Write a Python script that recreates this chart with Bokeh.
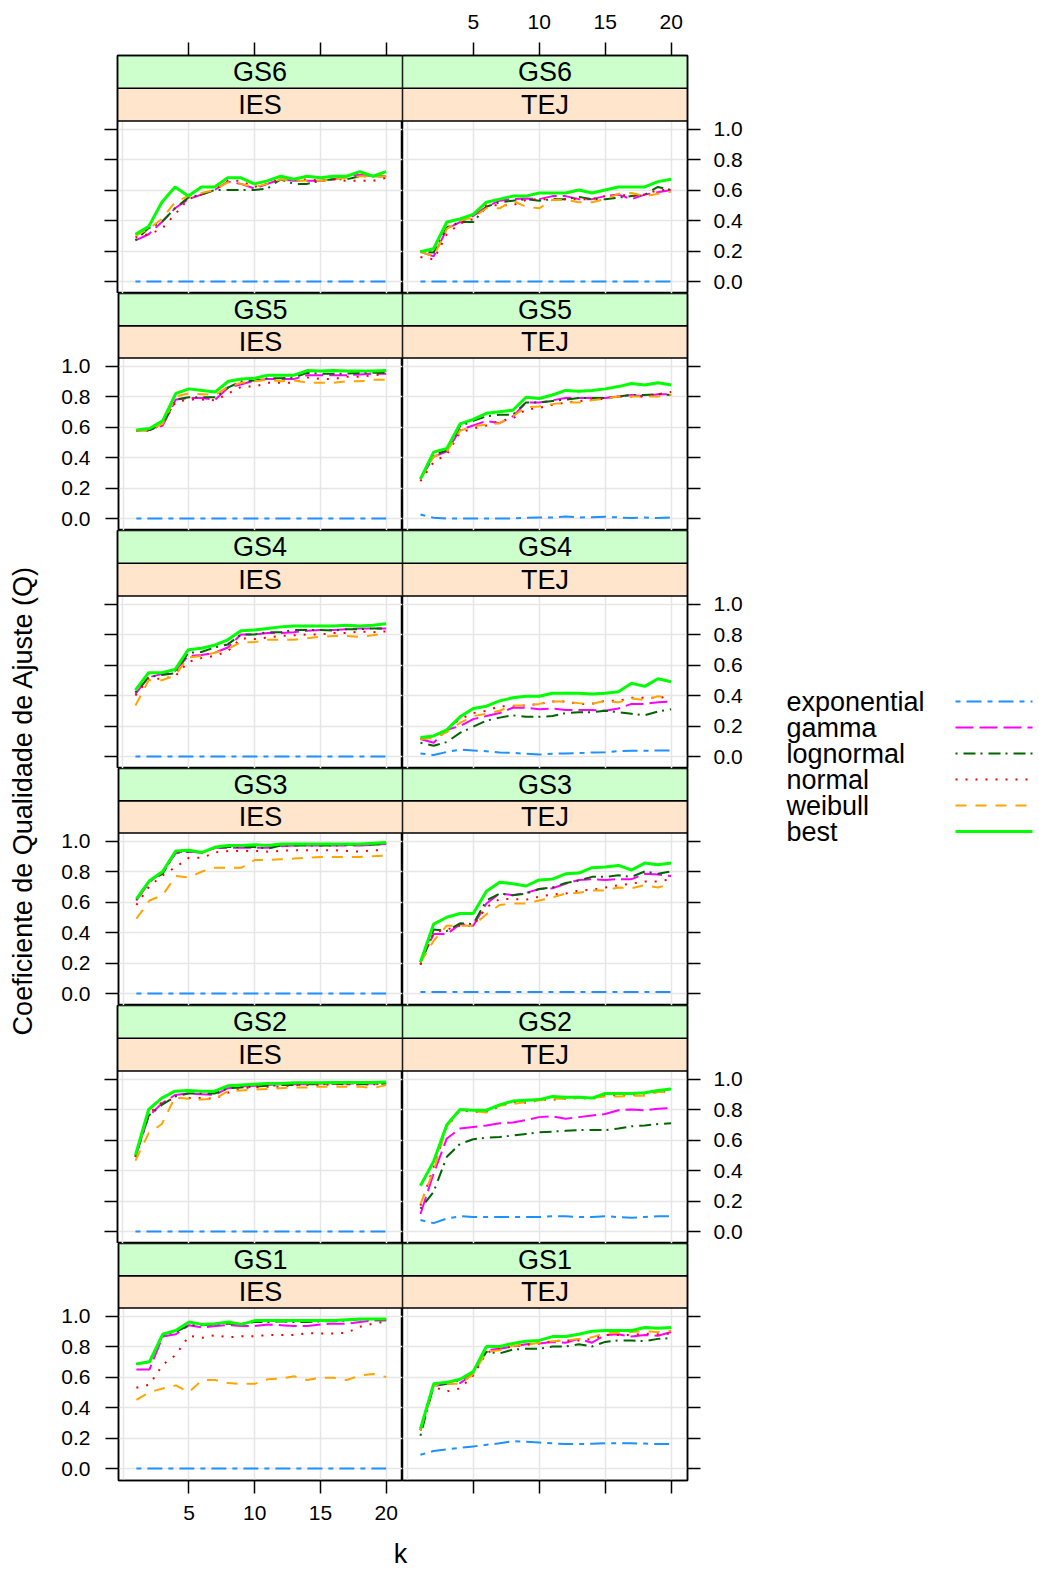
import math
from bokeh.plotting import figure
from bokeh.layouts import row, column
from bokeh.models import Range1d, LinearAxis, FixedTicker, Grid, PrintfTickFormatter
from bokeh.core.properties import value
from bokeh.embed import file_html
from bokeh.resources import INLINE

# ---------------- data ----------------
k = list(range(1, 21))
series_names = ["exponential", "gamma", "lognormal", "normal", "weibull", "best"]
series_colors = ["#1E90FF", "#FF00FF", "#006400", "#FF0000", "#FFA500", "#00FF00"]
series_dashes = ["5 6 15 6", "18 6", "2 6 12 5", "2 8", "11 9", "solid"]
series_widths = [2, 2, 2, 2, 2, 3]
groups = ["GS6", "GS5", "GS4", "GS3", "GS2", "GS1"]
panels = ["IES", "TEJ"]
x_ticks = [5, 10, 15, 20]
x_grid = [0, 5, 10, 15, 20]
y_ticks = [0.0, 0.2, 0.4, 0.6, 0.8, 1.0]
x_label = "k"
y_label = "Coeficiente de Qualidade de Ajuste (Q)"

# GS6 - IES
gs6_ies_exponential = [0, 0, 0, 0, 0, 0, 0, 0, 0, 0, 0, 0, 0, 0, 0, 0, 0, 0, 0, 0]
gs6_ies_gamma = [0.27, 0.31, 0.39, 0.48, 0.54, 0.57, 0.60, 0.655, 0.64, 0.61, 0.64, 0.67, 0.66, 0.66, 0.66, 0.67, 0.69, 0.70, 0.69, 0.69]
gs6_ies_lognormal = [0.27, 0.35, 0.39, 0.48, 0.55, 0.57, 0.60, 0.60, 0.60, 0.60, 0.61, 0.67, 0.64, 0.64, 0.66, 0.67, 0.67, 0.69, 0.69, 0.69]
gs6_ies_normal = [0.29, 0.31, 0.345, 0.44, 0.54, 0.57, 0.60, 0.66, 0.66, 0.62, 0.64, 0.67, 0.665, 0.67, 0.66, 0.67, 0.66, 0.66, 0.66, 0.68]
gs6_ies_weibull = [0.30, 0.345, 0.41, 0.52, 0.56, 0.58, 0.60, 0.65, 0.64, 0.62, 0.64, 0.67, 0.66, 0.66, 0.66, 0.67, 0.68, 0.69, 0.69, 0.69]
gs6_ies_best = [0.31, 0.36, 0.52, 0.62, 0.56, 0.62, 0.62, 0.68, 0.68, 0.64, 0.66, 0.69, 0.67, 0.69, 0.68, 0.69, 0.69, 0.72, 0.69, 0.72]

# GS6 - TEJ
gs6_tej_exponential = [0, 0, 0, 0, 0, 0, 0, 0, 0, 0, 0, 0, 0, 0, 0, 0, 0, 0, 0, 0]
gs6_tej_gamma = [0.195, 0.165, 0.345, 0.39, 0.43, 0.49, 0.53, 0.54, 0.545, 0.54, 0.56, 0.56, 0.54, 0.54, 0.56, 0.57, 0.54, 0.57, 0.585, 0.60]
gs6_tej_lognormal = [0.195, 0.19, 0.355, 0.39, 0.39, 0.49, 0.52, 0.53, 0.54, 0.53, 0.54, 0.54, 0.555, 0.54, 0.54, 0.55, 0.56, 0.57, 0.62, 0.60]
gs6_tej_normal = [0.16, 0.145, 0.31, 0.38, 0.41, 0.50, 0.50, 0.50, 0.535, 0.54, 0.54, 0.54, 0.54, 0.54, 0.56, 0.57, 0.56, 0.57, 0.60, 0.60]
gs6_tej_weibull = [0.195, 0.165, 0.345, 0.40, 0.42, 0.48, 0.48, 0.53, 0.49, 0.48, 0.535, 0.535, 0.52, 0.52, 0.54, 0.575, 0.58, 0.56, 0.575, 0.59]
gs6_tej_best = [0.195, 0.215, 0.39, 0.41, 0.44, 0.52, 0.54, 0.56, 0.56, 0.58, 0.58, 0.58, 0.60, 0.58, 0.60, 0.62, 0.62, 0.62, 0.655, 0.67]

# GS5 - IES
gs5_ies_exponential = [0, 0, 0, 0, 0, 0, 0, 0, 0, 0, 0, 0, 0, 0, 0, 0, 0, 0, 0, 0]
gs5_ies_gamma = [0.575, 0.58, 0.61, 0.78, 0.79, 0.79, 0.78, 0.86, 0.88, 0.905, 0.915, 0.915, 0.915, 0.94, 0.94, 0.94, 0.94, 0.945, 0.95, 0.95]
gs5_ies_lognormal = [0.575, 0.58, 0.62, 0.78, 0.795, 0.795, 0.795, 0.86, 0.90, 0.905, 0.92, 0.92, 0.925, 0.955, 0.95, 0.95, 0.95, 0.955, 0.955, 0.955]
gs5_ies_normal = [0.575, 0.575, 0.62, 0.765, 0.78, 0.78, 0.775, 0.82, 0.865, 0.865, 0.89, 0.89, 0.89, 0.925, 0.915, 0.915, 0.93, 0.93, 0.94, 0.945]
gs5_ies_weibull = [0.575, 0.58, 0.62, 0.80, 0.82, 0.815, 0.81, 0.865, 0.89, 0.90, 0.91, 0.90, 0.905, 0.89, 0.89, 0.89, 0.90, 0.90, 0.91, 0.91]
gs5_ies_best = [0.58, 0.59, 0.64, 0.82, 0.85, 0.84, 0.83, 0.90, 0.915, 0.92, 0.94, 0.94, 0.94, 0.97, 0.967, 0.97, 0.967, 0.967, 0.967, 0.97]

# GS5 - TEJ
gs5_tej_exponential = [0.026, 0.005, 0.0, 0.0, 0.0, 0.0, 0.0, 0.0, 0.005, 0.006, 0.007, 0.013, 0.007, 0.009, 0.011, 0.007, 0.003, 0.006, 0.003, 0.007]
gs5_tej_gamma = [0.26, 0.405, 0.44, 0.58, 0.61, 0.64, 0.625, 0.67, 0.76, 0.76, 0.775, 0.79, 0.79, 0.79, 0.79, 0.80, 0.81, 0.80, 0.815, 0.815]
gs5_tej_lognormal = [0.26, 0.42, 0.445, 0.605, 0.64, 0.67, 0.68, 0.68, 0.76, 0.76, 0.77, 0.78, 0.79, 0.79, 0.79, 0.80, 0.81, 0.81, 0.815, 0.81]
gs5_tej_normal = [0.245, 0.37, 0.42, 0.565, 0.59, 0.61, 0.64, 0.655, 0.715, 0.725, 0.745, 0.76, 0.77, 0.78, 0.785, 0.80, 0.80, 0.80, 0.815, 0.83]
gs5_tej_weibull = [0.26, 0.405, 0.44, 0.575, 0.605, 0.615, 0.625, 0.67, 0.73, 0.735, 0.75, 0.76, 0.76, 0.775, 0.785, 0.80, 0.80, 0.80, 0.80, 0.81]
gs5_tej_best = [0.26, 0.435, 0.46, 0.62, 0.65, 0.69, 0.70, 0.71, 0.795, 0.787, 0.81, 0.84, 0.835, 0.84, 0.85, 0.865, 0.885, 0.875, 0.89, 0.875]

# GS4 - IES
gs4_ies_exponential = [0, 0, 0, 0, 0, 0, 0, 0, 0, 0, 0, 0, 0, 0, 0, 0, 0, 0, 0, 0]
gs4_ies_gamma = [0.41, 0.52, 0.54, 0.56, 0.66, 0.665, 0.68, 0.715, 0.80, 0.80, 0.81, 0.81, 0.815, 0.825, 0.83, 0.83, 0.835, 0.84, 0.84, 0.84]
gs4_ies_lognormal = [0.42, 0.52, 0.535, 0.545, 0.68, 0.685, 0.715, 0.735, 0.80, 0.80, 0.815, 0.815, 0.83, 0.83, 0.83, 0.825, 0.835, 0.835, 0.84, 0.84]
gs4_ies_normal = [0.40, 0.51, 0.51, 0.525, 0.62, 0.645, 0.66, 0.69, 0.775, 0.77, 0.78, 0.79, 0.795, 0.80, 0.80, 0.81, 0.81, 0.82, 0.815, 0.82]
gs4_ies_weibull = [0.335, 0.50, 0.50, 0.53, 0.65, 0.66, 0.68, 0.705, 0.75, 0.75, 0.765, 0.765, 0.765, 0.775, 0.785, 0.79, 0.79, 0.785, 0.795, 0.81]
gs4_ies_best = [0.435, 0.55, 0.55, 0.57, 0.70, 0.71, 0.73, 0.765, 0.825, 0.83, 0.84, 0.85, 0.855, 0.855, 0.855, 0.855, 0.86, 0.855, 0.86, 0.87]

# GS4 - TEJ
gs4_tej_exponential = [0.02, 0.01, 0.03, 0.045, 0.04, 0.035, 0.026, 0.024, 0.018, 0.013, 0.018, 0.02, 0.022, 0.026, 0.028, 0.035, 0.037, 0.037, 0.04, 0.04]
gs4_tej_gamma = [0.115, 0.09, 0.175, 0.20, 0.245, 0.265, 0.285, 0.32, 0.32, 0.31, 0.315, 0.305, 0.305, 0.305, 0.30, 0.315, 0.345, 0.345, 0.355, 0.36]
gs4_tej_lognormal = [0.09, 0.07, 0.095, 0.155, 0.195, 0.235, 0.255, 0.27, 0.26, 0.26, 0.265, 0.285, 0.29, 0.29, 0.30, 0.29, 0.28, 0.27, 0.295, 0.31]
gs4_tej_normal = [0.115, 0.135, 0.175, 0.245, 0.285, 0.30, 0.33, 0.33, 0.335, 0.345, 0.36, 0.36, 0.345, 0.345, 0.365, 0.365, 0.385, 0.385, 0.385, 0.395]
gs4_tej_weibull = [0.115, 0.12, 0.16, 0.22, 0.265, 0.28, 0.30, 0.335, 0.335, 0.345, 0.36, 0.36, 0.35, 0.345, 0.365, 0.355, 0.38, 0.37, 0.395, 0.385]
gs4_tej_best = [0.125, 0.135, 0.175, 0.26, 0.315, 0.33, 0.365, 0.385, 0.395, 0.395, 0.415, 0.415, 0.415, 0.41, 0.415, 0.425, 0.48, 0.46, 0.51, 0.49]

# GS3 - IES
gs3_ies_exponential = [0, 0, 0, 0, 0, 0, 0, 0, 0, 0, 0, 0, 0, 0, 0, 0, 0, 0, 0, 0]
gs3_ies_gamma = [0.61, 0.73, 0.80, 0.92, 0.93, 0.925, 0.955, 0.955, 0.955, 0.955, 0.955, 0.965, 0.97, 0.97, 0.97, 0.97, 0.97, 0.97, 0.975, 0.98]
gs3_ies_lognormal = [0.615, 0.74, 0.785, 0.93, 0.93, 0.925, 0.955, 0.96, 0.96, 0.96, 0.95, 0.97, 0.97, 0.97, 0.97, 0.97, 0.975, 0.975, 0.975, 0.985]
gs3_ies_normal = [0.58, 0.705, 0.775, 0.83, 0.89, 0.89, 0.925, 0.935, 0.935, 0.935, 0.93, 0.935, 0.94, 0.94, 0.94, 0.94, 0.935, 0.93, 0.94, 0.94]
gs3_ies_weibull = [0.49, 0.61, 0.645, 0.77, 0.76, 0.80, 0.825, 0.825, 0.825, 0.875, 0.875, 0.88, 0.885, 0.89, 0.895, 0.895, 0.895, 0.895, 0.90, 0.905]
gs3_ies_best = [0.62, 0.74, 0.80, 0.935, 0.94, 0.925, 0.96, 0.97, 0.97, 0.975, 0.97, 0.98, 0.98, 0.98, 0.98, 0.98, 0.98, 0.98, 0.985, 0.99]

# GS3 - TEJ
gs3_tej_exponential = [0.01, 0.01, 0.01, 0.01, 0.01, 0.01, 0.01, 0.01, 0.01, 0.01, 0.01, 0.01, 0.01, 0.01, 0.01, 0.01, 0.01, 0.01, 0.01, 0.01]
gs3_tej_gamma = [0.205, 0.39, 0.39, 0.455, 0.445, 0.59, 0.655, 0.645, 0.66, 0.685, 0.69, 0.72, 0.745, 0.75, 0.745, 0.75, 0.75, 0.785, 0.78, 0.77]
gs3_tej_lognormal = [0.19, 0.42, 0.41, 0.46, 0.455, 0.61, 0.655, 0.645, 0.655, 0.685, 0.695, 0.725, 0.74, 0.765, 0.765, 0.775, 0.765, 0.80, 0.785, 0.80]
gs3_tej_normal = [0.19, 0.40, 0.42, 0.445, 0.445, 0.565, 0.62, 0.62, 0.615, 0.635, 0.65, 0.655, 0.675, 0.68, 0.695, 0.71, 0.72, 0.735, 0.735, 0.75]
gs3_tej_weibull = [0.205, 0.345, 0.445, 0.445, 0.445, 0.52, 0.58, 0.59, 0.59, 0.61, 0.63, 0.655, 0.66, 0.675, 0.675, 0.695, 0.69, 0.71, 0.695, 0.72]
gs3_tej_best = [0.205, 0.455, 0.50, 0.525, 0.525, 0.67, 0.73, 0.72, 0.705, 0.745, 0.75, 0.785, 0.79, 0.825, 0.83, 0.84, 0.81, 0.855, 0.845, 0.855]

# GS2 - IES
gs2_ies_exponential = [0, 0, 0, 0, 0, 0, 0, 0, 0, 0, 0, 0, 0, 0, 0, 0, 0, 0, 0, 0]
gs2_ies_gamma = [0.487, 0.755, 0.84, 0.895, 0.905, 0.90, 0.895, 0.94, 0.95, 0.955, 0.96, 0.965, 0.965, 0.965, 0.97, 0.97, 0.97, 0.97, 0.97, 0.975]
gs2_ies_lognormal = [0.495, 0.76, 0.83, 0.885, 0.905, 0.905, 0.905, 0.94, 0.945, 0.95, 0.955, 0.96, 0.96, 0.965, 0.965, 0.97, 0.965, 0.965, 0.965, 0.97]
gs2_ies_normal = [0.49, 0.775, 0.845, 0.875, 0.875, 0.875, 0.87, 0.91, 0.94, 0.945, 0.95, 0.95, 0.96, 0.96, 0.96, 0.965, 0.965, 0.965, 0.965, 0.97]
gs2_ies_weibull = [0.465, 0.645, 0.705, 0.88, 0.87, 0.865, 0.87, 0.92, 0.925, 0.93, 0.935, 0.94, 0.945, 0.945, 0.95, 0.95, 0.95, 0.95, 0.94, 0.96]
gs2_ies_best = [0.50, 0.80, 0.875, 0.92, 0.925, 0.92, 0.92, 0.955, 0.96, 0.965, 0.97, 0.97, 0.975, 0.975, 0.975, 0.977, 0.977, 0.977, 0.977, 0.98]

# GS2 - TEJ
gs2_tej_exponential = [0.075, 0.055, 0.085, 0.10, 0.095, 0.095, 0.095, 0.095, 0.095, 0.095, 0.10, 0.10, 0.095, 0.095, 0.10, 0.095, 0.09, 0.095, 0.10, 0.10]
gs2_tej_gamma = [0.115, 0.38, 0.61, 0.675, 0.685, 0.695, 0.71, 0.715, 0.73, 0.75, 0.755, 0.74, 0.75, 0.76, 0.77, 0.795, 0.80, 0.795, 0.805, 0.81]
gs2_tej_lognormal = [0.15, 0.26, 0.49, 0.575, 0.605, 0.615, 0.62, 0.63, 0.64, 0.65, 0.655, 0.66, 0.665, 0.665, 0.665, 0.675, 0.69, 0.695, 0.705, 0.71]
gs2_tej_normal = [0.17, 0.425, 0.685, 0.795, 0.785, 0.785, 0.82, 0.85, 0.845, 0.86, 0.865, 0.87, 0.875, 0.87, 0.89, 0.895, 0.895, 0.905, 0.915, 0.92]
gs2_tej_weibull = [0.18, 0.40, 0.69, 0.80, 0.79, 0.78, 0.825, 0.835, 0.85, 0.86, 0.87, 0.87, 0.875, 0.875, 0.885, 0.885, 0.89, 0.89, 0.915, 0.915]
gs2_tej_best = [0.30, 0.46, 0.70, 0.80, 0.795, 0.795, 0.83, 0.855, 0.86, 0.865, 0.885, 0.88, 0.88, 0.875, 0.905, 0.905, 0.905, 0.91, 0.925, 0.935]

# GS1 - IES
gs1_ies_exponential = [0, 0, 0, 0, 0, 0, 0, 0, 0, 0, 0, 0, 0, 0, 0, 0, 0, 0, 0, 0]
gs1_ies_gamma = [0.65, 0.65, 0.865, 0.88, 0.94, 0.925, 0.935, 0.94, 0.935, 0.935, 0.945, 0.94, 0.935, 0.935, 0.945, 0.95, 0.95, 0.96, 0.97, 0.97]
gs1_ies_lognormal = [0.685, 0.70, 0.875, 0.895, 0.94, 0.94, 0.945, 0.95, 0.95, 0.96, 0.96, 0.965, 0.96, 0.96, 0.965, 0.965, 0.97, 0.98, 0.975, 0.975]
gs1_ies_normal = [0.53, 0.55, 0.68, 0.745, 0.87, 0.857, 0.875, 0.86, 0.868, 0.868, 0.875, 0.875, 0.875, 0.888, 0.886, 0.886, 0.89, 0.93, 0.95, 0.965]
gs1_ies_weibull = [0.45, 0.50, 0.525, 0.545, 0.50, 0.58, 0.58, 0.56, 0.555, 0.555, 0.585, 0.59, 0.605, 0.58, 0.595, 0.595, 0.58, 0.61, 0.62, 0.60]
gs1_ies_best = [0.685, 0.70, 0.88, 0.905, 0.96, 0.945, 0.95, 0.96, 0.945, 0.97, 0.97, 0.97, 0.97, 0.97, 0.97, 0.97, 0.975, 0.98, 0.98, 0.98]

# GS1 - TEJ
gs1_tej_exponential = [0.09, 0.115, 0.125, 0.135, 0.145, 0.155, 0.165, 0.18, 0.175, 0.17, 0.165, 0.16, 0.16, 0.162, 0.165, 0.165, 0.165, 0.164, 0.16, 0.16]
gs1_tej_gamma = [0.25, 0.54, 0.555, 0.56, 0.62, 0.775, 0.785, 0.80, 0.815, 0.82, 0.83, 0.825, 0.85, 0.825, 0.875, 0.88, 0.865, 0.875, 0.87, 0.895]
gs1_tej_lognormal = [0.215, 0.545, 0.555, 0.58, 0.63, 0.765, 0.755, 0.78, 0.785, 0.785, 0.80, 0.80, 0.815, 0.80, 0.83, 0.84, 0.84, 0.835, 0.85, 0.855]
gs1_tej_normal = [0.25, 0.535, 0.505, 0.525, 0.61, 0.76, 0.785, 0.80, 0.81, 0.82, 0.835, 0.84, 0.84, 0.85, 0.875, 0.875, 0.875, 0.885, 0.88, 0.885]
gs1_tej_weibull = [0.25, 0.545, 0.555, 0.555, 0.62, 0.765, 0.775, 0.805, 0.81, 0.825, 0.835, 0.84, 0.85, 0.86, 0.89, 0.89, 0.895, 0.90, 0.895, 0.905]
gs1_tej_best = [0.26, 0.555, 0.565, 0.585, 0.635, 0.80, 0.80, 0.82, 0.835, 0.84, 0.865, 0.865, 0.88, 0.90, 0.905, 0.905, 0.905, 0.925, 0.92, 0.925]

panel_series = {
    ("GS6", "IES"): [gs6_ies_exponential, gs6_ies_gamma, gs6_ies_lognormal, gs6_ies_normal, gs6_ies_weibull, gs6_ies_best],
    ("GS6", "TEJ"): [gs6_tej_exponential, gs6_tej_gamma, gs6_tej_lognormal, gs6_tej_normal, gs6_tej_weibull, gs6_tej_best],
    ("GS5", "IES"): [gs5_ies_exponential, gs5_ies_gamma, gs5_ies_lognormal, gs5_ies_normal, gs5_ies_weibull, gs5_ies_best],
    ("GS5", "TEJ"): [gs5_tej_exponential, gs5_tej_gamma, gs5_tej_lognormal, gs5_tej_normal, gs5_tej_weibull, gs5_tej_best],
    ("GS4", "IES"): [gs4_ies_exponential, gs4_ies_gamma, gs4_ies_lognormal, gs4_ies_normal, gs4_ies_weibull, gs4_ies_best],
    ("GS4", "TEJ"): [gs4_tej_exponential, gs4_tej_gamma, gs4_tej_lognormal, gs4_tej_normal, gs4_tej_weibull, gs4_tej_best],
    ("GS3", "IES"): [gs3_ies_exponential, gs3_ies_gamma, gs3_ies_lognormal, gs3_ies_normal, gs3_ies_weibull, gs3_ies_best],
    ("GS3", "TEJ"): [gs3_tej_exponential, gs3_tej_gamma, gs3_tej_lognormal, gs3_tej_normal, gs3_tej_weibull, gs3_tej_best],
    ("GS2", "IES"): [gs2_ies_exponential, gs2_ies_gamma, gs2_ies_lognormal, gs2_ies_normal, gs2_ies_weibull, gs2_ies_best],
    ("GS2", "TEJ"): [gs2_tej_exponential, gs2_tej_gamma, gs2_tej_lognormal, gs2_tej_normal, gs2_tej_weibull, gs2_tej_best],
    ("GS1", "IES"): [gs1_ies_exponential, gs1_ies_gamma, gs1_ies_lognormal, gs1_ies_normal, gs1_ies_weibull, gs1_ies_best],
    ("GS1", "TEJ"): [gs1_tej_exponential, gs1_tej_gamma, gs1_tej_lognormal, gs1_tej_normal, gs1_tej_weibull, gs1_tej_best],
}

# ---------------- style / layout ----------------
FONT = "Liberation Sans"
TICK_FS = "21px"
MAIN_FS = "27px"
GRID_COLOR = "#E6E6E6"
STRIP_OUTER = "#CCFFCC"
STRIP_INNER = "#FFE5CC"

PX_PER_UNIT = 152.5
Y0 = -12.0 / PX_PER_UNIT
YTOP = 1.0525
X0, X1 = -0.36, 21.24
FRAME_W = 285
FRAME_H = [238, 237, 238, 237, 238, 237]
LEFT_B, RIGHT_B, TOP_B, BOTTOM_B = 59, 73, 55, 50
YLAB_W = 58
LEGEND_W = 276
KFIG_H = 42
TOTAL_H = TOP_B + sum(FRAME_H) + BOTTOM_B + KFIG_H


def add_axis(p, side, ticks, show_labels, standoff, fmt=None):
    ax = LinearAxis(
        ticker=FixedTicker(ticks=ticks, minor_ticks=[]),
        major_tick_out=13, major_tick_in=0,
        minor_tick_out=0, minor_tick_in=0,
        axis_line_color="black", axis_line_width=1.5,
        major_tick_line_color="black", major_tick_line_width=1.5,
        major_label_standoff=standoff,
        major_label_text_font=FONT,
        major_label_text_font_size=TICK_FS,
        major_label_text_color="black" if show_labels else None,
    )
    if fmt is not None:
        ax.formatter = fmt
    p.add_layout(ax, side)


def make_panel(r, c):
    gs, grp = groups[r], panels[c]
    fh = FRAME_H[r]
    y1 = Y0 + fh / PX_PER_UNIT
    ymid = (YTOP + y1) / 2.0
    mbl = LEFT_B if c == 0 else 0
    mbr = RIGHT_B if c == 1 else 0
    mbt = TOP_B if r == 0 else 0
    mbb = BOTTOM_B if r == len(groups) - 1 else 0
    p = figure(width=FRAME_W + mbl + mbr, height=fh + mbt + mbb,
               x_range=Range1d(X0, X1), y_range=Range1d(Y0, y1),
               x_axis_type=None, y_axis_type=None, title=None,
               output_backend="svg", toolbar_location=None,
               min_border_left=mbl, min_border_right=mbr,
               min_border_top=mbt, min_border_bottom=mbb)
    p.outline_line_color = "black"
    p.outline_line_width = 1.5
    p.background_fill_color = "white"
    p.border_fill_color = "white"
    p.add_layout(Grid(dimension=0, ticker=FixedTicker(ticks=x_grid),
                      grid_line_color=GRID_COLOR, grid_line_width=1.5), "center")
    p.add_layout(Grid(dimension=1, ticker=FixedTicker(ticks=y_ticks),
                      grid_line_color=GRID_COLOR, grid_line_width=1.5), "center")

    yfmt = PrintfTickFormatter(format="%.1f")
    if c == 0:
        add_axis(p, "left", y_ticks, r % 2 == 1, 15, yfmt)
    else:
        add_axis(p, "right", y_ticks, r % 2 == 0, 13, yfmt)
    if r == 0:
        add_axis(p, "above", x_ticks, c == 1, 14)
    if r == len(groups) - 1:
        add_axis(p, "below", x_ticks, c == 0, 12)

    # strips
    p.quad(left=[X0], right=[X1], bottom=[YTOP], top=[ymid],
           fill_color=STRIP_INNER, line_color="black", line_width=1.5)
    p.quad(left=[X0], right=[X1], bottom=[ymid], top=[y1],
           fill_color=STRIP_OUTER, line_color="black", line_width=1.5)
    p.text(x=[(X0 + X1) / 2.0], y=[(YTOP + ymid) / 2.0], text=[grp],
           text_align="center", text_baseline="middle",
           text_font=value(FONT), text_font_size=MAIN_FS, text_color="black")
    p.text(x=[(X0 + X1) / 2.0], y=[(ymid + y1) / 2.0], text=[gs],
           text_align="center", text_baseline="middle",
           text_font=value(FONT), text_font_size=MAIN_FS, text_color="black")

    for vals, col, dash, lw in zip(panel_series[(gs, grp)], series_colors,
                                   series_dashes, series_widths):
        p.line(k, vals, line_color=col, line_width=lw, line_dash=dash)
    return p


def deco_fig(w, h):
    f = figure(width=w, height=h, x_range=Range1d(0, w), y_range=Range1d(0, h),
               x_axis_type=None, y_axis_type=None, title=None,
               output_backend="svg", toolbar_location=None,
               min_border_left=0, min_border_right=0,
               min_border_top=0, min_border_bottom=0)
    f.outline_line_color = None
    f.background_fill_color = "white"
    f.border_fill_color = "white"
    return f


rows = []
for r in range(len(groups)):
    rows.append(row(make_panel(r, 0), make_panel(r, 1)))

# x label
kfig = deco_fig(LEFT_B + FRAME_W + FRAME_W + RIGHT_B, KFIG_H)
kfig.text(x=[LEFT_B + FRAME_W - 2], y=[KFIG_H - 23], text=[x_label],
          text_align="center", text_baseline="middle",
          text_font=value(FONT), text_font_size=MAIN_FS, text_color="black")

# y label
ylab = deco_fig(YLAB_W, TOTAL_H)
ylab.text(x=[22], y=[TOTAL_H - 800], text=[y_label], angle=math.pi / 2,
          text_align="center", text_baseline="middle",
          text_font=value(FONT), text_font_size=MAIN_FS, text_color="black")

# legend (labels left, line samples right)
leg = deco_fig(LEGEND_W, TOTAL_H)
leg_y0 = 701
leg_dy = 26
for i, (name, col, dash, lw) in enumerate(zip(series_names, series_colors,
                                              series_dashes, series_widths)):
    yy = TOTAL_H - (leg_y0 + i * leg_dy)
    leg.text(x=[26], y=[yy], text=[name], text_align="left", text_baseline="middle",
             text_font=value(FONT), text_font_size=MAIN_FS, text_color="black")
    leg.line(x=[195, 272], y=[yy, yy], line_color=col, line_width=lw, line_dash=dash)

layout = row(ylab, column(*rows, kfig), leg)

open("out.html", "w").write(file_html(layout, INLINE, "chart"))
